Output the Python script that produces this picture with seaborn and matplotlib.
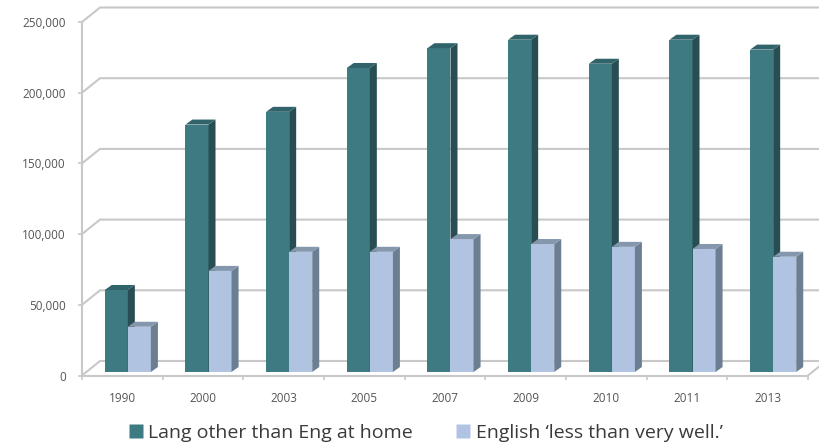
import matplotlib
matplotlib.use("Agg")
import matplotlib.pyplot as plt
import pandas as pd
import seaborn as sns
from matplotlib.patches import Polygon
from matplotlib.lines import Line2D

# ---- data -------------------------------------------------------------
years = ["1990", "2000", "2003", "2005", "2007", "2009", "2010", "2011", "2013"]
lang_other_home = [58000, 175000, 184000, 215000, 229000, 235000, 218000, 235000, 228000]
english_less_than_very_well = [32000, 71500, 85000, 85000, 94000, 90500, 88500, 87000, 81500]
series_names = ["Lang other than Eng at home", "English \u2018less than very well.\u2019"]
y_ticks = [0, 50000, 100000, 150000, 200000, 250000]
y_tick_labels = ["0", "50,000", "100,000", "150,000", "200,000", "250,000"]

# ---- style ------------------------------------------------------------
front_colors = ["#3e7a82", "#b0c4e2"]
side_colors = ["#284d52", "#6c7e92"]
top_colors = ["#31636a", "#8597ad"]
grid_color = "#c8c8c8"
text_color = "#555555"

sns.set_theme(style="white")
plt.rcParams["font.family"] = ["Open Sans", "DejaVu Sans"]

W, H, DPI = 819, 448, 100
fig = plt.figure(figsize=(W / DPI, H / DPI), dpi=DPI)

# front plane of the 3-D box, in pixels from the top-left corner
AX_L, AX_R, AX_B, AX_T = 82, 808, 375.5, 22
ax = fig.add_axes([AX_L / W, 1 - AX_B / H, (AX_R - AX_L) / W, (AX_B - AX_T) / H])
n = len(years)
ax.set_xlim(-0.5, n - 0.5)
ax.set_ylim(0, 250000)

px_per_x = (AX_R - AX_L) / n
px_per_y = (AX_B - AX_T) / 250000


def px(dx, dy):
    """Convert a pixel offset into data units."""
    return dx / px_per_x, dy / px_per_y


back_dx, back_dy = px(18, 14.5)     # back wall offset
plane_dx, plane_dy = px(5.5, 3.5)   # plane the columns stand in
depth_dx, depth_dy = px(7, 5)       # column depth

# ---- back wall gridlines and floor ------------------------------------
for v in y_ticks:
    ax.plot([-0.5, -0.5 + back_dx, n + 1], [v, v + back_dy, v + back_dy],
            color=grid_color, lw=1.5, clip_on=False, zorder=1,
            solid_capstyle="butt")
# right end of the floor
ax.plot([n - 0.5, n - 0.5 + back_dx], [0, back_dy], color=grid_color,
        lw=1.5, clip_on=False, zorder=1)

# ---- columns ----------------------------------------------------------
df = pd.DataFrame({
    "year": years * 2,
    "value": lang_other_home + english_less_than_very_well,
    "series": [series_names[0]] * n + [series_names[1]] * n,
})
sns.barplot(data=df, x="year", y="value", hue="series", hue_order=series_names,
            palette=front_colors, saturation=1, width=0.572, ax=ax,
            legend=False, linewidth=0, errorbar=None)

for i, p in enumerate(ax.patches):
    s = i // n
    p.set_x(p.get_x() + plane_dx)
    p.set_y(p.get_y() + plane_dy)
    p.set_zorder(3 + s)
    p.set_clip_on(False)
    x0, x1 = p.get_x(), p.get_x() + p.get_width()
    y0, y1 = p.get_y(), p.get_y() + p.get_height()
    side = Polygon([(x1, y0), (x1 + depth_dx, y0 + depth_dy),
                    (x1 + depth_dx, y1 + depth_dy), (x1, y1)],
                   closed=True, facecolor=side_colors[s], edgecolor="none",
                   zorder=3.1 + s, clip_on=False)
    top = Polygon([(x0, y1), (x1, y1), (x1 + depth_dx, y1 + depth_dy),
                   (x0 + depth_dx, y1 + depth_dy)],
                  closed=True, facecolor=top_colors[s], edgecolor="none",
                  zorder=3.1 + s, clip_on=False)
    ax.add_patch(side)
    ax.add_patch(top)

# ---- axes -------------------------------------------------------------
for side_name in ["top", "right"]:
    ax.spines[side_name].set_visible(False)
for side_name in ["left", "bottom"]:
    ax.spines[side_name].set_color(grid_color)
    ax.spines[side_name].set_linewidth(1.5)
    ax.spines[side_name].set_zorder(2)

ax.set_yticks(y_ticks)
ax.set_yticklabels(y_tick_labels)
ax.set_xticks(range(n))
ax.set_xticklabels(years)
ax.set_xticks([i - 0.5 for i in range(n + 1)], minor=True)
ax.tick_params(axis="y", which="major", direction="out", length=3.2, width=1.2,
               color=grid_color, pad=8.5, labelsize=8.5, labelcolor=text_color,
               left=True)
ax.tick_params(axis="x", which="major", length=0, pad=12, labelsize=8.5,
               labelcolor=text_color)
ax.tick_params(axis="x", which="minor", direction="out", length=3.2, width=1.2,
               color=grid_color, bottom=True)
ax.set_xlabel("")
ax.set_ylabel("")
ax.grid(False)

# ---- legend -----------------------------------------------------------
handles = [Line2D([], [], marker="s", linestyle="none", markersize=10,
                  markerfacecolor=c, markeredgecolor="none") for c in front_colors]
fig.legend(handles, series_names, loc="center", bbox_to_anchor=(0.5195, 0.033),
           ncol=2, frameon=False, fontsize=14, handletextpad=0.28,
           columnspacing=2.2, handlelength=0.75, labelcolor="#3a3a3a")

fig.savefig("out.png", dpi=DPI)
